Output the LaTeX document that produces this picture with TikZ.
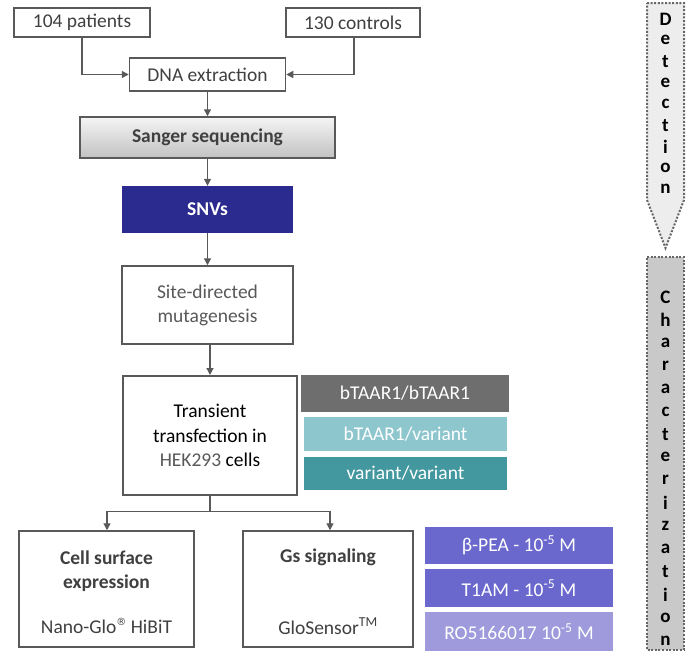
\documentclass[tikz,border=0pt]{standalone}
\usepackage{fontspec}
\setmainfont{Carlito}
\newfontfamily\symfont{DejaVu Sans}
\usetikzlibrary{arrows.meta}
\definecolor{bord}{HTML}{595959}
\definecolor{txt}{HTML}{404040}
\definecolor{snv}{HTML}{2B2A8E}
\definecolor{gA}{HTML}{6E6E6E}
\definecolor{gB}{HTML}{8EC6CE}
\definecolor{gC}{HTML}{43979E}
\definecolor{pA}{HTML}{6A68CC}
\definecolor{pB}{HTML}{9E9ADC}
\tikzset{
  box/.style={draw=bord, line width=1.5pt, fill=white, text=txt, align=center, inner sep=0pt, font=\fontsize{19.5}{24}\selectfont},
  tag/.style={inner sep=0pt, text=white, align=center, font=\fontsize{19.5}{24}\selectfont},
  conn/.style={draw=bord, line width=1.3pt, -{Triangle[length=7pt,width=7pt]}},
  plain/.style={draw=bord, line width=1.3pt},
  band/.style={draw=gray!80!black, line width=2pt, dash pattern=on 2pt off 1.6pt},
  letter/.style={inner sep=0pt, font=\bfseries\fontsize{19}{20}\selectfont, text=black}
}
\begin{document}
\begin{tikzpicture}[x=1pt,y=-1pt]
\useasboundingbox (0,0) rectangle (686,651);
% top boxes
\node[box, minimum width=136pt, minimum height=29pt] (pat) at (82,22.5) {104 patients};
\node[box, minimum width=134pt, minimum height=29pt] (con) at (353,22.5) {130 controls};
\node[box, minimum width=156pt, minimum height=33pt] (dna) at (207.5,74.5) {DNA extraction};
\node[box, minimum width=255pt, minimum height=41pt, top color=gray!8, bottom color=gray!48, font=\bfseries\fontsize{19.5}{24}\selectfont] (san) at (207.5,137.5) {Sanger sequencing};
\node[tag, fill=snv, minimum width=171pt, minimum height=47pt, font=\bfseries\fontsize{19.5}{24}\selectfont] (snv) at (207.5,209.5) {SNVs};
\node[box, minimum width=171pt, minimum height=78pt, text=bord] (sdm) at (207.5,305) {Site-directed\\mutagenesis};
\node[box, line width=2pt, minimum width=174pt, minimum height=119pt, text=black, font=\fontsize{19.5}{24.5}\selectfont] (tra) at (210,435.5) {Transient\\transfection in\\\textcolor{bord}{HEK293} cells};
% genotype tags
\node[tag, fill=gA, minimum width=208pt, minimum height=37pt] (g1) at (405,393.5) {bTAAR1/bTAAR1};
\node[tag, fill=gB, minimum width=203pt, minimum height=34pt] (g2) at (405.5,434) {bTAAR1/variant};
\node[tag, fill=gC, minimum width=203pt, minimum height=33pt] (g3) at (405.5,473.5) {variant/variant};
% bottom boxes
\node[box, minimum width=175pt, minimum height=116pt] (cse) at (106.5,589) {};
\node[font=\bfseries\fontsize{19.5}{24}\selectfont, align=center, text=txt] (cset) at (106.5,571) {Cell surface\\expression};
\node[font=\fontsize{19.5}{24}\selectfont, text=txt] (csen) at (106.5,626) {Nano-Glo\raisebox{0.42em}{\symfont\fontsize{10}{10}\selectfont ®} HiBiT};
\node[box, minimum width=170pt, minimum height=116pt] (gss) at (328,589) {};
\node[font=\bfseries\fontsize{19.5}{24}\selectfont, text=txt] (gsst) at (328,557) {Gs signaling};
\node[font=\fontsize{19.5}{24}\selectfont, text=txt] (gssn) at (328,626) {GloSensor\textsuperscript{TM}};
% ligand tags
\node[tag, fill=pA, minimum width=188pt, minimum height=37pt] (l1) at (519,545.5) {β-PEA - 10\textsuperscript{-5} M};
\node[tag, fill=pA, minimum width=188pt, minimum height=38pt] (l2) at (519,588) {T1AM - 10\textsuperscript{-5} M};
\node[tag, fill=pB, minimum width=188pt, minimum height=39pt] (l3) at (519,631.5) {RO5166017 10\textsuperscript{-5} M};
% connectors
\coordinate (jl) at (82,74.5);
\coordinate (jr) at (354,74.5);
\draw[conn] (pat.south -| jl) -- (jl) -- (dna.west);
\draw[conn] (con.south -| jr) -- (jr) -- (dna.east);
\draw[conn] (dna.south) -- (san.north);
\draw[conn] (san.south) -- (snv.north);
\draw[conn] (snv.south) -- (sdm.north);
\draw[conn] (sdm.south -| tra.north) -- (tra.north);
\coordinate (split) at (210,511.5);
\coordinate (sl) at (107,511.5);
\coordinate (sr) at (330,511.5);
\draw[plain] (tra.south) -- (split);
\draw[conn] (split) -- (sl) -- (sl |- cse.north);
\draw[conn] (split) -- (sr) -- (sr |- gss.north);
% side bands
\draw[band, fill=gray!14] (647,3) -- (684,3) -- (684,200) -- (665.5,248) -- (647,200) -- cycle;
\draw[band, fill=gray!42] (647,257) -- (684,257) -- (684,650) -- (647,650) -- cycle;
\foreach \c [count=\i from 0] in {D,e,t,e,c,t,i,o,n}
  \node[letter] (d\i) at (665.5,19+21.25*\i) {\c};
\foreach \c [count=\i from 0] in {C,h,a,r,a,c,t,e,r,i,z,a,t,i,o,n}
  \node[letter] (c\i) at (665.5,297+22.9*\i) {\c};
\end{tikzpicture}
\end{document}
